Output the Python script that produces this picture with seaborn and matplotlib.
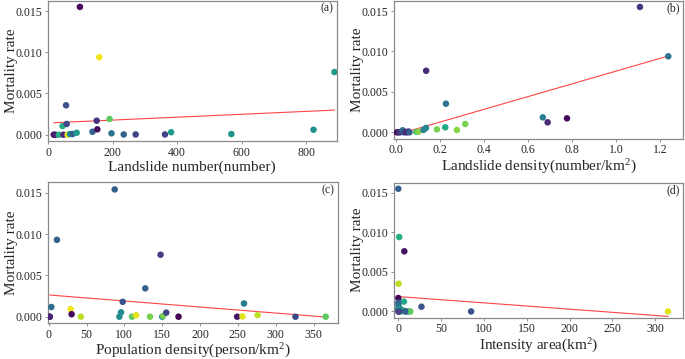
import matplotlib
matplotlib.use("Agg")
import matplotlib.pyplot as plt
import seaborn as sns
import numpy as np
from matplotlib.ticker import FormatStrFormatter

# ---------------- data ----------------
# (a) Landslide number
a_x = [17, 22, 33, 47, 60, 67, 75, 44, 55, 57, 88, 98, 137, 150, 152, 158, 190, 196, 234, 271, 362, 381, 568, 823, 888]
a_y = [0.0, 0.0, 0.0, 0.0, 0.0, 0.00008, 0.00008, 0.00105, 0.00357, 0.0013, 0.00024, 0.0155, 0.00036, 0.0017,
       0.00065, 0.0094, 0.0019, 0.00017, 0.00003, 0.00003, 0.00003, 0.0003, 0.00008, 0.0006, 0.0076]
a_c = [0.02, 0.1, 0.62, 0.12, 0.98, 0.5, 0.3, 0.62, 0.25, 0.22, 0.55, 0.02, 0.32, 0.15, 0.03, 0.98, 0.75, 0.38,
       0.3, 0.2, 0.2, 0.55, 0.52, 0.5, 0.55]

# (b) Landslide density
b_x = [0.003, 0.01, 0.015, 0.02, 0.029, 0.035, 0.044, 0.048, 0.056, 0.06, 0.091, 0.101, 0.124, 0.135, 0.136,
       0.185, 0.223, 0.226, 0.276, 0.314, 0.667, 0.689, 0.777, 1.109, 1.238]
b_y = [0.0, 0.00002, 0.0, 0.00005, 0.00025, 0.0, 0.00005, 0.0, 0.0001, 0.0, 0.00005, 0.00008, 0.0003, 0.00055,
       0.00761, 0.00037, 0.00062, 0.00354, 0.00029, 0.00103, 0.00185, 0.00124, 0.00173, 0.0155, 0.0094]
b_c = [0.02, 0.05, 0.2, 0.15, 0.38, 0.25, 0.15, 0.1, 0.15, 0.3, 0.72, 0.82, 0.45, 0.45, 0.12, 0.8, 0.6, 0.38,
       0.82, 0.8, 0.42, 0.12, 0.02, 0.15, 0.38]

# (c) Population density
c_x = [1.3, 1.5, 3.5, 10.9, 28.9, 30.3, 42.5, 87.2, 93.4, 95.6, 97.8, 110, 115.4, 127.6, 133.8, 147.8, 150, 151.3,
       155.3, 171.5, 249, 256, 258, 276, 326, 366]
c_y = [0.0, 0.0, 0.00117, 0.0093, 0.00093, 0.0003, 0.0, 0.0154, 0.0, 0.00053, 0.0018, 0.0, 0.00017, 0.00343, 0.0,
       0.0075, 0.0, 0.0001, 0.00049, 0.0, 0.0, 0.00003, 0.0016, 0.0002, 0.0, 0.0]
c_c = [0.1, 0.1, 0.35, 0.3, 0.98, 0.02, 0.9, 0.3, 0.5, 0.48, 0.25, 0.75, 0.95, 0.3, 0.8, 0.18, 0.5, 0.8, 0.2, 0.0,
       0.05, 0.95, 0.4, 0.9, 0.22, 0.75]

# (d) Intensity area
d_x = [0.0, 1.0, 7.0, 0.3, 0.0, 6.5, 27.0, 85.0, 315.0, 0.0, 0.2, 0.5, 0.0, 1.0, 3.0, 4.0, 9.5, 12.5, 14.0,
       2.0, 5.0, 0.0, 1.5, 8.0, 0.8]
d_y = [0.0155, 0.0094, 0.0076, 0.0035, 0.0017, 0.00125, 0.0006, 0.0, 0.0, 0.0011, 0.0008, 0.0005, 0.0003, 0.0,
       0.0, 0.0002, 0.0, 0.0, 0.0, 0.0001, 0.0001, 0.0, 0.00035, 0.0, 0.0]
d_c = [0.3, 0.62, 0.05, 0.9, 0.02, 0.6, 0.25, 0.25, 0.95, 0.3, 0.35, 0.4, 0.45, 0.95, 0.7, 0.65, 0.35, 0.45,
       0.75, 0.85, 0.6, 0.1, 0.5, 0.3, 0.2]

x_labels = ["Landslide number(number)", "Landslide density(number/km$^2$)",
            "Population density(person/km$^2$)", "Intensity area(km$^2$)"]
panel_tags = ["(a)", "(b)", "(c)", "(d)"]
y_label = "Mortality rate"
y_ticks = [0.0, 0.005, 0.010, 0.015]
x_ticks = [[0, 200, 400, 600, 800],
           [0.0, 0.2, 0.4, 0.6, 0.8, 1.0, 1.2],
           [0, 50, 100, 150, 200, 250, 300, 350],
           [0, 50, 100, 150, 200, 250, 300]]

# ---------------- style ----------------
sns.set_style("white")
plt.rcParams["font.family"] = ["Liberation Serif", "DejaVu Serif"]
plt.rcParams["mathtext.fontset"] = "custom"
plt.rcParams["mathtext.rm"] = "Liberation Serif"
plt.rcParams["mathtext.it"] = "Liberation Serif:italic"
plt.rcParams["mathtext.default"] = "regular"

W, H = 685, 359
fig = plt.figure(figsize=(W / 100, H / 100), dpi=100)

def rect(l, t, r, b):
    return [l / W, 1 - b / H, (r - l) / W, (b - t) / H]

axes_rects = [rect(47.7, 0.5, 336.7, 141.1),
              rect(394.3, 0.7, 683.0, 138.6),
              rect(47.7, 182.2, 337.7, 323.1),
              rect(394.3, 182.6, 683.0, 317.6)]
xlims = [(-2, 895), (-0.009, 1.305), (-1.3, 381.8), (-4.7, 332.6)]
ylim = (-0.000775, 0.016275)

data = [(a_x, a_y, a_c), (b_x, b_y, b_c), (c_x, c_y, c_c), (d_x, d_y, d_c)]

for i, ((xs, ys, cs), r) in enumerate(zip(data, axes_rects)):
    ax = fig.add_axes(r)
    sns.scatterplot(x=xs, y=ys, hue=cs, palette="viridis", hue_norm=(0, 1), s=22,
                    linewidth=0, legend=False, ax=ax, zorder=3)
    sns.regplot(x=np.array(xs), y=np.array(ys), scatter=False, ci=None, truncate=True,
                color="#ff3030", line_kws=dict(lw=0.8, alpha=0.9), ax=ax)
    ax.set_xlim(*xlims[i])
    ax.set_ylim(*ylim)
    ax.set_xticks(x_ticks[i])
    ax.set_yticks(y_ticks)
    ax.yaxis.set_major_formatter(FormatStrFormatter("%.3f"))
    if i == 1:
        ax.xaxis.set_major_formatter(FormatStrFormatter("%.1f"))
    ax.set_xlabel(x_labels[i], fontsize=11, labelpad=1)
    ax.set_ylabel(y_label, fontsize=11)
    ax.yaxis.set_label_coords(-0.104, 0.5)
    ax.tick_params(axis="both", labelsize=8.5, length=2.5, width=0.6, color="#808080", pad=1.5,
                   direction="out", bottom=True, left=True)
    for sp in ax.spines.values():
        sp.set_color("#8a8a8a")
        sp.set_linewidth(0.9)
    ax.text(0.99, 0.985, panel_tags[i], transform=ax.transAxes, ha="right", va="top", fontsize=8.5)

fig.savefig("out.png", dpi=100)
